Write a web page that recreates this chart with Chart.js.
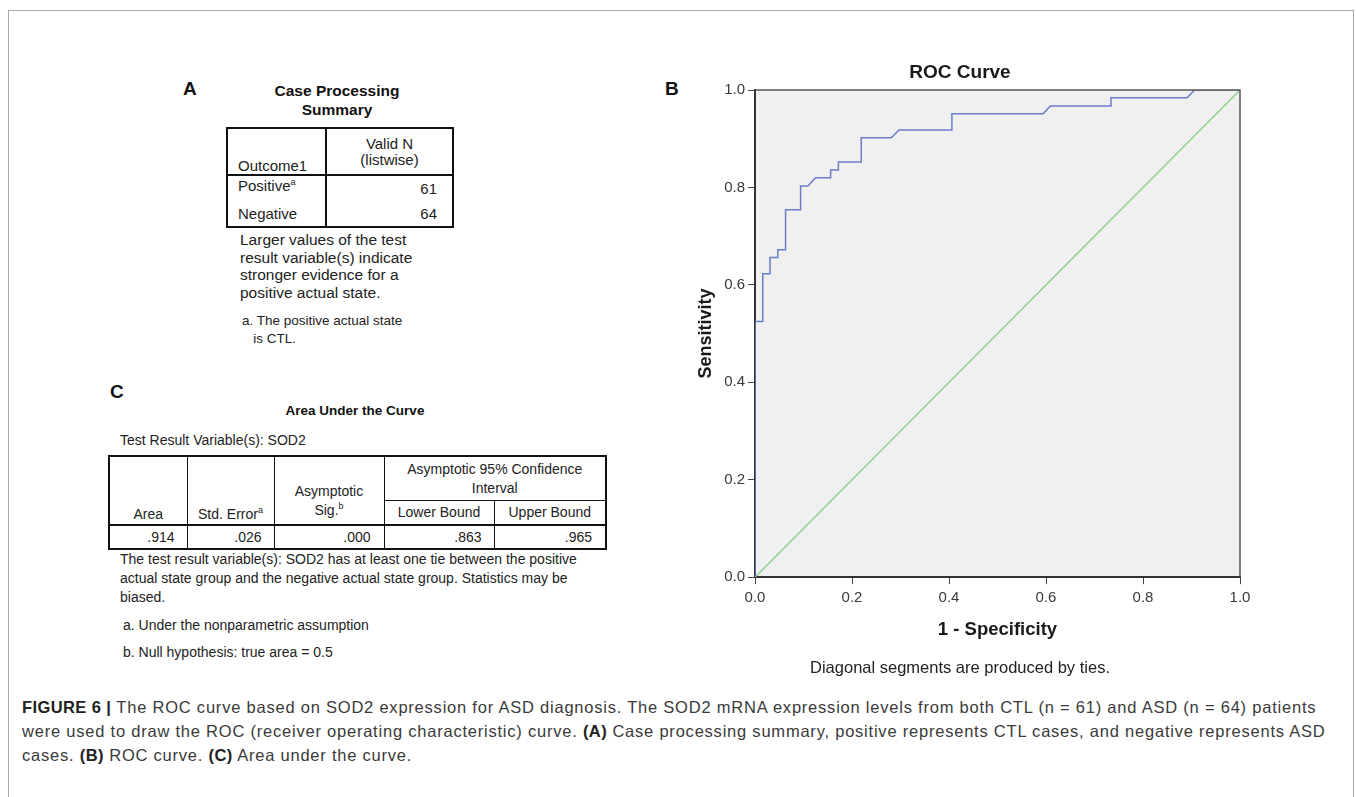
<!DOCTYPE html>
<html>
<head>
<meta charset="utf-8">
<script src="https://cdn.jsdelivr.net/npm/chart.js@4.4.1/dist/chart.umd.min.js"></script>
<style>
  body { margin: 0; background: #fff; font-family: "Liberation Sans", Arial, sans-serif; color: #222; }
  #page { position: relative; width: 1356px; height: 797px; overflow: hidden; }
  .frame { position: absolute; left: 8px; top: 10px; width: 1344px; height: 900px; border: 1px solid #a8a8a8; border-bottom: none; }
  .abs { position: absolute; white-space: nowrap; }
  .panel { font-weight: bold; font-size: 19px; line-height: 20px; color: #111; }
  .spss { font-size: 14px; line-height: 17.5px; color: #222; }
  table.spss-t { position: absolute; border-collapse: collapse; table-layout: fixed; border: 2px solid #111; color: #222; }
  table.spss-t td { padding: 0; border: 1px solid #111; overflow: hidden; white-space: nowrap; }
  .sup { font-size: 9px; position: relative; top: -6px; }
  #caption { position: absolute; left: 22px; top: 695px; font-size: 16.5px; letter-spacing: 0.78px; line-height: 24px; color: #3a3a3a; white-space: nowrap; }
  #caption b { color: #222; letter-spacing: 0.4px; }
  #chartBox { position: absolute; left: 680px; top: 50px; width: 590px; height: 640px; }
</style>
</head>
<body>
<div id="page">
  <div class="frame"></div>

  <!-- panel A: case processing summary -->
  <div class="abs panel" style="left:183px; top:79px;">A</div>
  <div class="abs" style="left:237px; top:81px; width:200px; text-align:center; font-weight:bold; font-size:15.5px; line-height:19px; color:#111;">Case Processing<br>Summary</div>
  <table class="spss-t" style="left:226px; top:127px; width:226px; font-size:15px;">
    <colgroup><col style="width:99px"><col style="width:127px"></colgroup>
    <tr style="height:47px; border-bottom:2px solid #111;">
      <td style="vertical-align:bottom; padding-left:10px; padding-bottom:0px; border-right-width:2px;">Outcome1</td>
      <td style="text-align:center; line-height:16px; padding-top:1px;">Valid N<br>(listwise)</td>
    </tr>
    <tr style="height:26px;">
      <td style="padding-left:10px; border-right-width:2px; border-bottom:none; vertical-align:top; padding-top:1px;">Positive<span class="sup">a</span></td>
      <td style="text-align:right; padding-right:15px; border-bottom:none;">61</td>
    </tr>
    <tr style="height:26px;">
      <td style="padding-left:10px; border-right-width:2px; border-top:none;">Negative</td>
      <td style="text-align:right; padding-right:15px; border-top:none;">64</td>
    </tr>
  </table>
  <div class="abs spss" style="left:240px; top:231px; font-size:15.5px;">Larger values of the test<br>result variable(s) indicate<br>stronger evidence for a<br>positive actual state.</div>
  <div class="abs spss" style="left:242px; top:312px; font-size:13.5px;">a. The positive actual state<br>&nbsp;&nbsp;&nbsp;is CTL.</div>

  <!-- panel C: area under the curve -->
  <div class="abs panel" style="left:110px; top:382px;">C</div>
  <div class="abs spss" style="left:255px; top:402px; width:200px; text-align:center; font-weight:bold; font-size:13.5px; color:#111;">Area Under the Curve</div>
  <div class="abs spss" style="left:120px; top:432px;">Test Result Variable(s): SOD2</div>
  <table class="spss-t" style="left:108px; top:455px; width:497px; font-size:14px;">
    <colgroup><col style="width:78px"><col style="width:87px"><col style="width:110px"><col style="width:110px"><col style="width:112px"></colgroup>
    <tr style="height:44px;">
      <td rowspan="2" style="text-align:center; vertical-align:bottom; padding-bottom:2px; border-bottom:2px solid #111;">Area</td>
      <td rowspan="2" style="text-align:center; vertical-align:bottom; padding-bottom:2px; border-bottom:2px solid #111;">Std. Error<span class="sup">a</span></td>
      <td rowspan="2" style="text-align:center; vertical-align:bottom; padding-bottom:2px; line-height:19px; border-bottom:2px solid #111;">Asymptotic<br>Sig.<span class="sup">b</span></td>
      <td colspan="2" style="text-align:center; line-height:19px; padding-top:2px;">Asymptotic 95% Confidence<br>Interval</td>
    </tr>
    <tr style="height:25px;">
      <td style="text-align:center; border-bottom:2px solid #111;">Lower Bound</td>
      <td style="text-align:center; border-bottom:2px solid #111;">Upper Bound</td>
    </tr>
    <tr style="height:24px;">
      <td style="text-align:right; padding-right:12px;">.914</td>
      <td style="text-align:right; padding-right:12px;">.026</td>
      <td style="text-align:right; padding-right:13px;">.000</td>
      <td style="text-align:right; padding-right:12px;">.863</td>
      <td style="text-align:right; padding-right:13px;">.965</td>
    </tr>
  </table>
  <div class="abs spss" style="left:120px; top:550px; line-height:19px;">The test result variable(s): SOD2 has at least one tie between the positive<br>actual state group and the negative actual state group. Statistics may be<br>biased.</div>
  <div class="abs spss" style="left:123px; top:617px;">a. Under the nonparametric assumption</div>
  <div class="abs spss" style="left:123px; top:644px;">b. Null hypothesis: true area = 0.5</div>

  <!-- panel B: ROC curve -->
  <div class="abs panel" style="left:665px; top:79px;">B</div>
  <div id="chartBox"><canvas id="rocChart" width="590" height="640"></canvas></div>

  <div id="caption"><b>FIGURE 6 |</b> The ROC curve based on SOD2 expression for ASD diagnosis. The SOD2 mRNA expression levels from both CTL (n = 61) and ASD (n = 64) patients<br>were used to draw the ROC (receiver operating characteristic) curve. <b>(A)</b> Case processing summary, positive represents CTL cases, and negative represents ASD<br>cases. <b>(B)</b> ROC curve. <b>(C)</b> Area under the curve.</div>
</div>

<script>
// ROC curve of SOD2 (1 - specificity, sensitivity)
const rocFpr = [0, 0, 0.016, 0.016, 0.031, 0.031, 0.047, 0.047, 0.063, 0.063, 0.094, 0.094, 0.109, 0.125, 0.156, 0.156, 0.172, 0.172, 0.219, 0.219, 0.281, 0.297, 0.406, 0.406, 0.594, 0.609, 0.734, 0.734, 0.891, 0.906, 1];
const rocTpr = [0, 0.525, 0.525, 0.623, 0.623, 0.656, 0.656, 0.672, 0.672, 0.754, 0.754, 0.803, 0.803, 0.820, 0.820, 0.836, 0.836, 0.852, 0.852, 0.902, 0.902, 0.918, 0.918, 0.951, 0.951, 0.967, 0.967, 0.984, 0.984, 1, 1];

// reference line
const refFpr = [0, 1];
const refTpr = [0, 1];

const axisTicks = ['0.0', '0.2', '0.4', '0.6', '0.8', '1.0'];

const FONT = '"Liberation Sans", Arial, sans-serif';

function toPoints(xs, ys) {
    return xs.map((x, i) => ({ x: x, y: ys[i] }));
}

// grey plot background and the top/right frame lines
const plotFrame = {
    id: 'plotFrame',
    beforeDraw(chart) {
        const { ctx, chartArea: a } = chart;
        ctx.save();
        ctx.fillStyle = '#f0f0f0';
        ctx.fillRect(a.left, a.top, a.width, a.height);
        ctx.restore();
    },
    afterDraw(chart) {
        const { ctx, chartArea: a } = chart;
        ctx.save();
        ctx.strokeStyle = '#555';
        ctx.lineWidth = 1.5;
        ctx.beginPath();
        ctx.moveTo(a.left, a.top);
        ctx.lineTo(a.right, a.top);
        ctx.lineTo(a.right, a.bottom);
        ctx.stroke();
        ctx.restore();
    }
};

const ctx = document.getElementById('rocChart').getContext('2d');

new Chart(ctx, {
    type: 'scatter',
    data: {
        datasets: [{
            label: 'SOD2',
            data: toPoints(rocFpr, rocTpr),
            showLine: true,
            borderColor: '#6a7dcb',
            borderWidth: 1.5,
            pointRadius: 0,
            order: 1
        }, {
            label: 'Reference Line',
            data: toPoints(refFpr, refTpr),
            showLine: true,
            borderColor: '#86d08a',
            borderWidth: 1.3,
            pointRadius: 0,
            order: 2
        }]
    },
    options: {
        responsive: false,
        animation: false,
        devicePixelRatio: 1,
        layout: { padding: { left: 0, right: 30, top: 0, bottom: 0 } },
        plugins: {
            legend: { display: false },
            tooltip: { enabled: false },
            title: {
                display: true,
                text: 'ROC Curve',
                color: '#1a1a1a',
                font: { family: FONT, size: 19, weight: 'bold' },
                padding: { top: 11.6, bottom: 5.6 }
            },
            subtitle: {
                display: true,
                position: 'bottom',
                text: 'Diagonal segments are produced by ties.',
                color: '#222',
                font: { family: FONT, size: 16.5 },
                padding: { top: 3, bottom: 12 }
            }
        },
        scales: {
            x: {
                type: 'linear',
                min: 0,
                max: 1,
                ticks: {
                    stepSize: 0.2,
                    callback: (v, i) => axisTicks[i],
                    color: '#3a3a3a',
                    font: { family: FONT, size: 15 },
                    padding: 5,
                    maxRotation: 0
                },
                grid: { drawOnChartArea: false, tickLength: 7, color: '#444' },
                border: { color: '#333', width: 2 },
                title: {
                    display: true,
                    text: '1 - Specificity',
                    color: '#1a1a1a',
                    font: { family: FONT, size: 18.5, weight: 'bold' },
                    padding: { top: 0, bottom: 14 }
                },
                afterFit: (scale) => { scale.height = 78; }
            },
            y: {
                type: 'linear',
                min: 0,
                max: 1,
                ticks: {
                    stepSize: 0.2,
                    callback: (v, i) => axisTicks[i],
                    color: '#3a3a3a',
                    font: { family: FONT, size: 15 },
                    padding: 3
                },
                grid: { drawOnChartArea: false, tickLength: 7, color: '#444' },
                border: { color: '#333', width: 2 },
                title: {
                    display: true,
                    text: 'Sensitivity',
                    color: '#1a1a1a',
                    font: { family: FONT, size: 18, weight: 'bold' },
                    padding: { top: 15, bottom: 0 }
                },
                afterFit: (scale) => { scale.width = 75; }
            }
        }
    },
    plugins: [plotFrame]
});
</script>
</body>
</html>
